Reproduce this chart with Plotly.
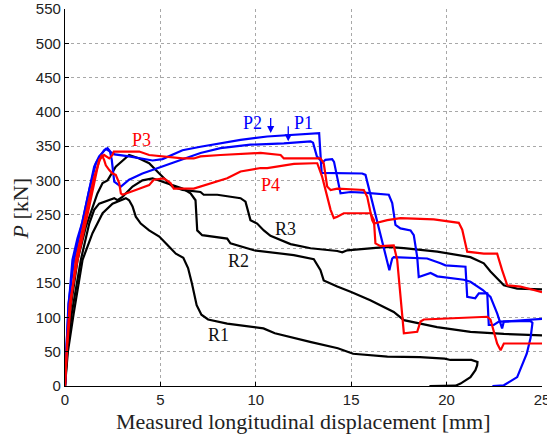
import plotly.graph_objects as go

# ---------------- data ----------------
r1_x = [0, 0.15, 0.45, 0.92, 1.44, 1.97, 2.49, 3.19, 3.36, 3.54, 3.71, 3.97, 4.41, 4.94, 5.46, 5.81, 6.2,
        6.45, 6.65, 6.9, 7.15, 7.5, 8.5, 9.7, 10.4, 11.0, 11.8, 12.9, 14.3, 15.1, 16.9, 18.6, 19.9, 20.2,
        21.3, 21.62, 21.6, 21.51, 21.25, 20.73, 20.47, 19.1]
r1_y = [0, 50, 105, 184, 223, 252, 266, 274, 271, 262, 247, 237, 227, 218, 203, 193, 187,
        172, 150, 118, 104, 97, 91, 87, 84, 77, 72, 64, 55, 47, 43, 42, 40, 38,
        38, 35, 30, 23, 13, 3.5, 0.5, 0]

r2_x = [0, 0.12, 0.35, 0.83, 1.27, 1.53, 1.79, 2.32, 2.58, 2.75, 3.01, 3.54, 4.06, 4.59, 5.11, 5.63, 6.16,
        6.58, 6.84, 6.93, 7.19, 8.5, 8.67, 9.9, 11.99, 13.04, 13.39, 13.56, 14.27, 15.0, 16.0, 17.23,
        17.76, 19.5, 21.25, 23.0, 25.0]
r2_y = [0, 50, 105, 184, 237, 257, 266, 271, 274, 271, 276, 291, 300, 303, 298, 293, 288,
        281, 271, 227, 220, 215, 208, 198, 191, 185, 169, 154, 145, 137, 125, 108,
        96, 86, 79, 76, 74]

r3_x = [0, 0.1, 0.3, 0.66, 1.09, 1.44, 1.7, 1.97, 2.23, 2.66, 3.36, 3.89, 4.41, 4.94, 5.28, 5.63, 6.16,
        7.1, 7.27, 7.98, 9.2, 9.46, 9.72, 10.07, 10.42, 10.77, 11.82, 12.87, 14.27, 14.53, 14.79,
        16.01, 16.89, 17.76, 19.51, 21.25, 21.95, 22.3, 23.0, 23.7, 25.0]
r3_y = [0, 55, 115, 184, 232, 262, 281, 296, 300, 320, 337, 332, 325, 310, 300, 291, 286,
        283, 279, 279, 274, 269, 242, 237, 227, 219, 207, 201, 197, 195, 198,
        201, 203, 201, 196, 188, 179, 167, 147, 142, 141]

p1_x = [0, 0.08, 0.2, 0.39, 0.65, 0.92, 1.27, 1.62, 1.79, 2.05, 2.23, 2.35, 2.45, 2.58, 2.93, 3.36, 4.06,
        5.11, 6.16, 7.1, 8.15, 9.72, 11.47, 12.87, 13.0, 13.2, 13.5, 13.65, 14.0, 14.1, 14.44, 14.96,
        15.66, 16.97, 17.15, 17.32, 17.58, 18.11, 18.28, 18.46, 18.54, 18.98, 19.16, 19.51, 20.9,
        21.25, 21.9, 22.3, 22.65, 22.91, 23.0, 25.0]
p1_y = [0, 60, 120, 184, 215, 240, 286, 325, 333, 344, 347, 343, 330, 298, 291, 301, 310,
        320, 330, 340, 347, 352, 354, 357, 355, 335, 326, 330, 331, 327, 281, 283,
        282, 279, 267, 235, 230, 227, 220, 188, 159, 163, 165, 160, 155,
        152, 140, 130, 106, 84, 94, 98]

p2_x = [0, 0.07, 0.18, 0.48, 1.09, 1.53, 1.79, 2.14, 2.3, 2.6, 3.36, 4.0, 4.59, 5.11, 6.16, 7.1, 8.15,
        9.2, 10.6, 12.0, 13.13, 13.32, 13.45, 15.58, 15.75, 17.0, 17.06, 17.15, 17.23, 18.98, 19.68,
        19.94, 20.99, 21.08, 21.5, 21.69, 22.13, 22.21, 22.47, 22.74, 24.4, 24.5, 24.4, 24.2, 23.7,
        23.0, 22.4]
p2_y = [0, 60, 120, 184, 262, 320, 335, 346, 343, 338, 335, 332, 329, 331, 344, 349, 354,
        359, 364, 367, 369, 369, 311, 310, 308, 169, 176, 186, 188, 186, 179,
        176, 174, 130, 128, 135, 135, 89, 89, 94, 95, 92, 70, 47, 13,
        1, 0]

p3_x = [0, 0.1, 0.25, 0.66, 1.27, 1.62, 1.79, 2.05, 2.32, 2.49, 2.56, 3.36, 3.89, 4.41, 5.0, 6.16, 6.75,
        7.1, 8.15, 9.9, 10.25, 11.3, 11.47, 12.87, 13.39, 13.56, 13.74, 13.92, 14.27, 15.66, 15.84,
        16.1, 16.19, 16.89, 17.58, 19.33, 20.64, 20.82, 21.08, 21.95, 22.65, 22.91, 23.18, 23.87,
        24.4, 24.57, 25.0]
p3_y = [0, 60, 120, 184, 262, 310, 330, 337, 332, 337, 342, 342, 342, 337, 335, 332, 332,
        335, 337, 340, 340, 337, 332, 332, 332, 325, 291, 286, 288, 286, 276,
        242, 237, 242, 245, 243, 238, 228, 196, 193, 193, 169, 147, 145,
        142, 140, 137]

p4_x = [0, 0.12, 0.3, 0.57, 1.18, 1.53, 1.79, 1.93, 2.05, 2.14, 2.32, 2.49, 2.66, 2.84, 2.93, 3.01, 3.71,
        4.41, 4.65, 5.18, 5.53, 5.7, 6.75, 7.63, 8.5, 9.2, 10.25, 10.6, 12.0, 13.04, 13.22, 13.48,
        13.92, 14.09, 14.27, 14.61, 16.01, 16.19, 16.27, 16.54, 17.23, 17.41, 17.58, 17.76, 18.46,
        18.63, 18.81, 22.13, 22.3, 22.65, 22.83, 23.0, 25.0]
p4_y = [0, 60, 120, 184, 262, 305, 327, 337, 330, 322, 315, 310, 308, 296, 281, 279, 286,
        293, 301, 303, 296, 288, 288, 296, 303, 313, 318, 318, 324, 325, 325, 305,
        257, 245, 247, 252, 252, 242, 208, 204, 205, 184, 135, 77, 79,
        94, 97, 101, 97, 62, 52, 62, 62]

x_ticks = [0, 5, 10, 15, 20, 25]
y_ticks = [0, 50, 100, 150, 200, 250, 300, 350, 400, 450, 500, 550]

labels = ["P1", "P2", "P3", "P4", "R1", "R2", "R3"]
label_x = [12.5, 9.83, 4.0, 10.77, 8.05, 9.09, 11.55]
label_y = [384, 384, 359, 293, 74, 182, 229]
label_colors = ["#0000ff", "#0000ff", "#ff0000", "#ff0000", "#111111", "#111111", "#111111"]

arrow_x = [10.78, 11.7]
arrow_y = [369, 357]

# ---------------- figure ----------------
fig = go.Figure()
series = [
    (r1_x, r1_y, "#000000", "R1"),
    (r2_x, r2_y, "#000000", "R2"),
    (r3_x, r3_y, "#000000", "R3"),
    (p1_x, p1_y, "#0000ff", "P1"),
    (p2_x, p2_y, "#0000ff", "P2"),
    (p3_x, p3_y, "#ff0000", "P3"),
    (p4_x, p4_y, "#ff0000", "P4"),
]
for xs, ys, col, name in series:
    fig.add_trace(go.Scatter(x=xs, y=ys, mode="lines", name=name,
                             line=dict(color=col, width=2.2), showlegend=False))

serif = "Liberation Serif, Times New Roman, serif"
for t, x, y, c in zip(labels, label_x, label_y, label_colors):
    fig.add_annotation(x=x, y=y, text=t, showarrow=False,
                       font=dict(family=serif, size=18, color=c),
                       xanchor="center", yanchor="middle")

for x, y in zip(arrow_x, arrow_y):
    fig.add_annotation(x=x, y=y, ax=x, ay=y + 24, axref="x", ayref="y", text="",
                       showarrow=True, arrowhead=2, arrowsize=1.1, arrowwidth=1.3,
                       arrowcolor="#0000ff")

fig.add_annotation(x=0.5, y=-0.093, xref="paper", yref="paper", text="Measured longitudinal displacement [mm]",
                   showarrow=False, font=dict(family=serif, size=22, color="#222222"),
                   xanchor="center", yanchor="middle")
fig.add_annotation(x=-0.093, y=0.47, xref="paper", yref="paper", text="<i>P</i> [kN]",
                   showarrow=False, textangle=-90, font=dict(family=serif, size=22, color="#222222"),
                   xanchor="center", yanchor="middle")

axis_common = dict(showgrid=True, gridcolor="#a8a8a8", griddash="dot", gridwidth=1,
                   zeroline=False, showline=True, linecolor="#000000", linewidth=1.2,
                   ticks="inside", ticklen=4, tickcolor="#000000",
                   ticklabeloverflow="allow", automargin=False,
                   tickfont=dict(family="Liberation Sans, Arial, sans-serif", size=15, color="#222222"))

fig.update_xaxes(range=[0, 25], tickvals=x_ticks, **axis_common)
fig.update_yaxes(range=[0, 550], tickvals=y_ticks, **axis_common)

fig.update_layout(width=547, height=435, margin=dict(l=64.5, r=5.3, t=9.3, b=49.3, autoexpand=False),
                  plot_bgcolor="#ffffff", paper_bgcolor="#ffffff")

fig.write_html("out.html")
